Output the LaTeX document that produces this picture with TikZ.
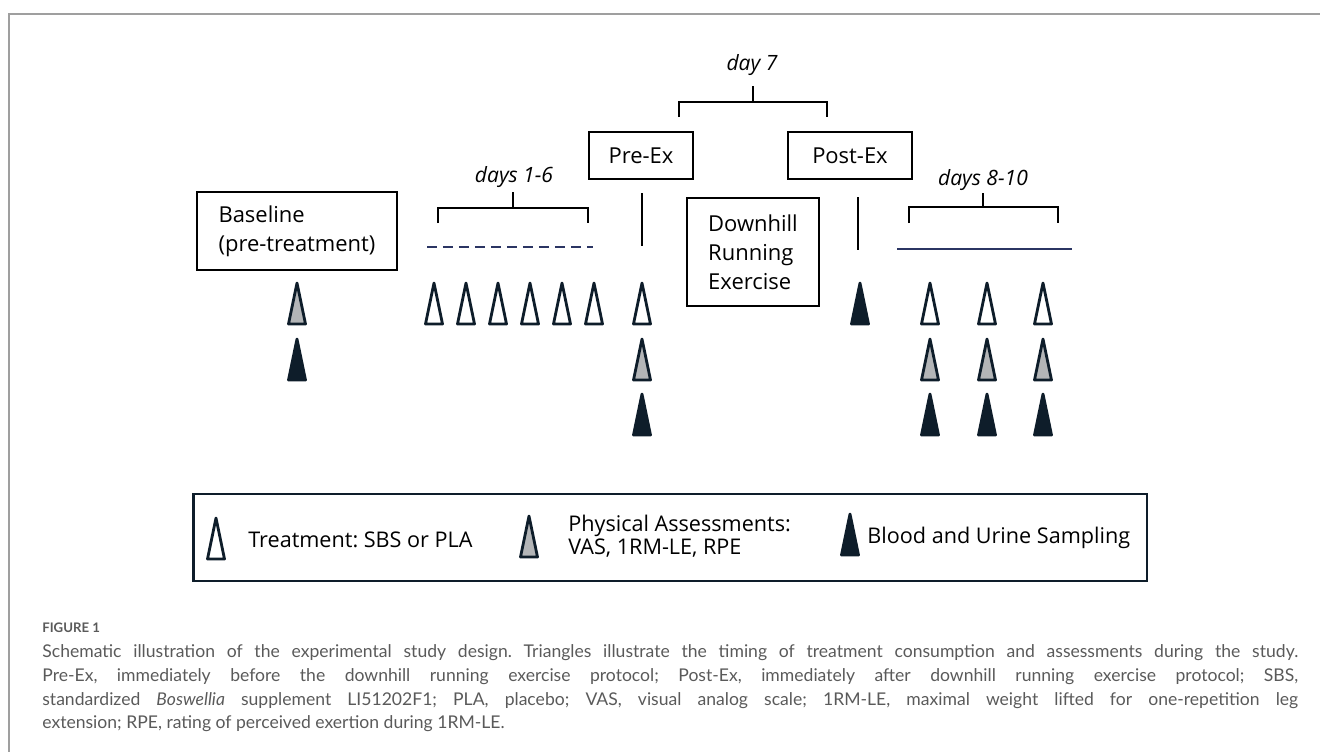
\documentclass[tikz,border=0pt]{standalone}
\usepackage{fontspec}
\setmainfont{Open Sans}
\newfontfamily\capfont{Lato}
\usetikzlibrary{positioning}
\definecolor{navy}{HTML}{0E1D2A}
\definecolor{lineblue}{HTML}{2B3563}
\definecolor{assessgray}{HTML}{B3B5B7}
\definecolor{capgray}{HTML}{5A5A5A}
\frenchspacing

\tikzset{
  phase/.style={draw,line width=1.1pt,inner sep=0pt,align=left,
    font=\fontsize{12.5}{16.5}\selectfont},
  period/.style={inner sep=0pt,anchor=base,font=\fontsize{12}{14}\selectfont\itshape},
  bracket/.style={line width=1.1pt},
  legtext/.style={inner sep=0pt,anchor=west,align=left,font=\fontsize{12.3}{13}\selectfont},
  pics/marker/.style={code={
    \filldraw[draw=navy,fill=#1,line width=1.6pt,line join=round]
      (-8.5,20) -- (0,-21) -- (8.5,20) -- cycle;}}
}

\begin{document}
\begin{tikzpicture}[x=0.02cm,y=-0.02cm]
  \useasboundingbox (0,0) rectangle (1320,752);
  \draw[gray!75,line width=0.9pt] (1320,14) -- (9,14) -- (9,752);

  % phases
  \node[phase,minimum width=4cm,minimum height=1.56cm] (base) at (297,231) {Baseline\\(pre-treatment)};
  \node[phase,minimum width=2.08cm,minimum height=0.94cm] (preex) at (641,155.5) {Pre-Ex};
  \node[phase,minimum width=2.48cm,minimum height=0.94cm] (postex) at (850,155.5) {Post-Ex};
  \node[phase,minimum width=2.64cm,minimum height=2.16cm] (run) at (753,252) {Downhill\\Running\\Exercise};

  % periods and brackets
  \node[period] (day7) at (752,70) {day 7};
  \node[period] (days16) at (514,182) {days 1-6};
  \node[period] (days810) at (983,185) {days 8-10};
  \draw[bracket] (753,86) -- (753,102);
  \draw[bracket] (679,117) |- (827,102) -- (827,117);
  \draw[bracket] (513,192) -- (513,208);
  \draw[bracket] (438,223) |- (588,208) -- (588,223);
  \draw[bracket] (983,193) -- (983,207);
  \draw[bracket] (909,223) |- (1058,207) -- (1058,223);
  \draw[bracket] (642,193) -- (642,246);
  \draw[bracket] (858,197) -- (858,250);
  \draw[lineblue,line width=0.7pt,dash pattern=on 0.2cm off 0.12cm] (427,247) -- (593,247);
  \draw[lineblue,line width=0.9pt] (897,249) -- (1072,249);

  % markers
  \pic at (297,304) {marker=assessgray};
  \pic at (297,360) {marker=navy};
  \foreach \x in {434,466,498,530,562,594}
    \pic at (\x,304) {marker=white};
  \pic at (642,304) {marker=white};
  \pic at (642,360) {marker=assessgray};
  \pic at (642,415) {marker=navy};
  \pic at (860,304) {marker=navy};
  \foreach \x in {930,987,1043} {
    \pic at (\x,304) {marker=white};
    \pic at (\x,360) {marker=assessgray};
    \pic at (\x,415) {marker=navy};
  }

  % legend
  \node[draw=navy,line width=1.6pt,minimum width=19.08cm,minimum height=1.74cm,inner sep=0pt] (legend) at (670,537.5) {};
  \pic at (216,539) {marker=white};
  \node[legtext] (legtreat) at (248,540) {Treatment: SBS or PLA};
  \pic at (529,537) {marker=assessgray};
  \node[legtext] (legphys) at (568,536) {Physical Assessments:\\VAS, 1RM-LE, RPE};
  \pic at (850,535) {marker=navy};
  \node[legtext] (legblood) at (867,538) {Blood and Urine Sampling};

  % caption
  \node[anchor=west,inner sep=0pt,text=capgray,font=\capfont\bfseries\fontsize{7.5}{9}\selectfont] (figno) at (42,628) {FIGURE 1};
  \node[anchor=north west,inner sep=0pt,text width=25.12cm,align=justify,text=capgray,
    font=\capfont\fontsize{10}{13.6}\selectfont] (caption) at (42,644)
    {\hyphenpenalty=10000\emergencystretch=3em
     Schematic illustration of the experimental study design. Triangles illustrate the timing of treatment consumption and assessments during the study.\linebreak
     Pre-Ex, immediately before the downhill running exercise protocol; Post-Ex, immediately after downhill running exercise protocol; SBS,\linebreak
     standardized \textit{Boswellia} supplement LI51202F1; PLA, placebo; VAS, visual analog scale; 1RM-LE, maximal weight lifted for one-repetition leg\linebreak
     extension; RPE, rating of perceived exertion during 1RM-LE.};
\end{tikzpicture}
\end{document}
